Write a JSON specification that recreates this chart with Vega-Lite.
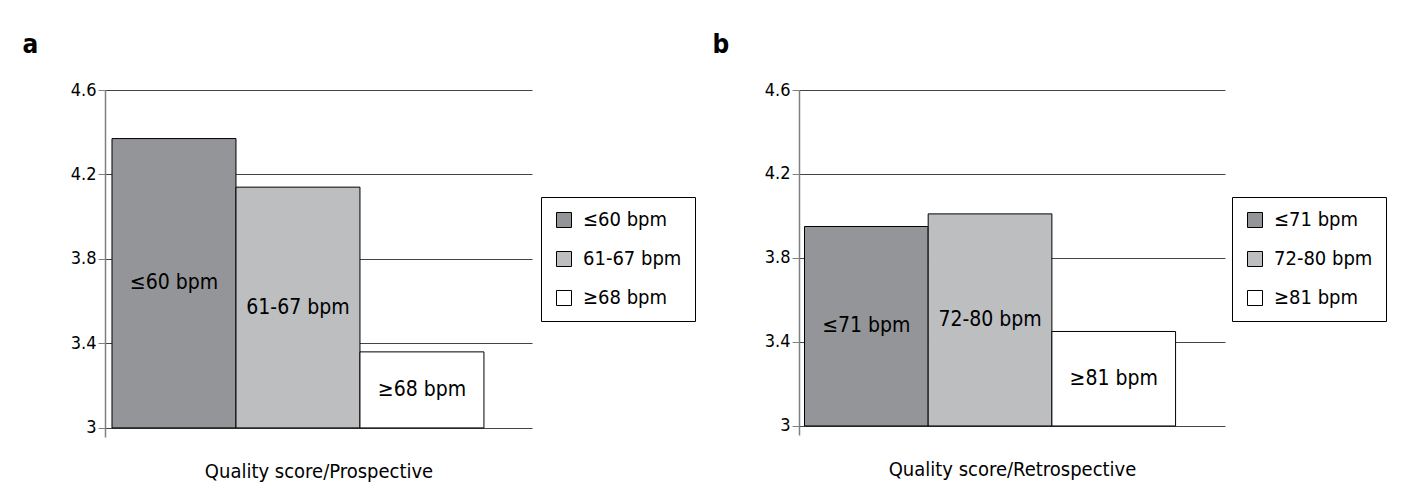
{
  "$schema": "https://vega.github.io/schema/vega-lite/v6.json",
  "padding": {"left": 22, "top": 31, "right": 5, "bottom": 5},
  "spacing": 16,
  "resolve": {"scale": {"fill": "independent", "x": "independent", "y": "independent"}, "legend": {"fill": "independent"}},
  "config": {
    "font": "'DejaVu Sans Condensed', Roboto, sans-serif",
    "view": {"stroke": null},
    "axis": {"labelColor": "black", "titleColor": "black", "labelFont": "'DejaVu Sans Condensed', Roboto, sans-serif", "titleFont": "'DejaVu Sans Condensed', Roboto, sans-serif"},
    "legend": {"labelFont": "'DejaVu Sans Condensed', Roboto, sans-serif"},
    "text": {"font": "'DejaVu Sans Condensed', Roboto, sans-serif"}
  },
  "hconcat": [
    {
      "width": 427,
      "height": 347,
      "data": {"values": [
        {"group": "≤60 bpm", "value": 4.37},
        {"group": "61-67 bpm", "value": 4.14},
        {"group": "≥68 bpm", "value": 3.36}
      ]},
      "layer": [
        {
          "mark": {"type": "bar", "stroke": "black", "strokeWidth": 1},
          "encoding": {
            "x": {"field": "group", "type": "nominal", "sort": null,
              "scale": {"domain": ["≤60 bpm", "61-67 bpm", "≥68 bpm"], "paddingInner": 0, "paddingOuter": 0.222, "align": 0.127},
              "axis": {"title": "Quality score/Prospective", "labels": false, "ticks": false, "domain": false, "titleFontSize": 20, "titleFontWeight": "normal", "titlePadding": 24}},
            "y": {"field": "value", "type": "quantitative",
              "scale": {"domain": [2.957, 4.6], "nice": false, "zero": false},
              "axis": {"values": [3, 3.4, 3.8, 4.2, 4.6], "format": ".2~f", "grid": true, "gridColor": "#444444", "gridWidth": 1, "gridOpacity": 1,
                "domainColor": "#808080", "domainWidth": 1.5, "tickColor": "#808080", "tickSize": 7, "labelFontSize": 18, "labelPadding": 2,
                "title": "a", "titleAngle": 0, "titleX": -83, "titleY": -38, "titleAlign": "left", "titleBaseline": "alphabetic", "titleFontSize": 26, "titleFontWeight": "bold"}},
            "y2": {"datum": 3},
            "fill": {"field": "group", "type": "nominal",
              "scale": {"domain": ["≤60 bpm", "61-67 bpm", "≥68 bpm"], "range": ["#939598", "#bcbec0", "#ffffff"]},
              "legend": {"orient": "none", "legendX": 436, "legendY": 107, "title": null, "strokeColor": "black", "padding": 13, "symbolType": "square", "symbolSize": 225, "symbolStrokeColor": "black", "symbolStrokeWidth": 1, "labelFontSize": 20, "labelColor": "black", "rowPadding": 19, "labelOffset": 9}}
          }
        },
        {
          "transform": [{"calculate": "(datum.value + 3) / 2", "as": "mid"}],
          "mark": {"type": "text", "fontSize": 21, "color": "black"},
          "encoding": {
            "x": {"field": "group", "type": "nominal", "sort": null},
            "y": {"field": "mid", "type": "quantitative"},
            "text": {"field": "group"}
          }
        }
      ]
    },
    {
      "width": 426,
      "height": 345,
      "data": {"values": [
        {"group": "≤71 bpm", "value": 3.95},
        {"group": "72-80 bpm", "value": 4.01},
        {"group": "≥81 bpm", "value": 3.45}
      ]},
      "layer": [
        {
          "mark": {"type": "bar", "stroke": "black", "strokeWidth": 1},
          "encoding": {
            "x": {"field": "group", "type": "nominal", "sort": null,
              "scale": {"domain": ["≤71 bpm", "72-80 bpm", "≥81 bpm"], "paddingInner": 0, "paddingOuter": 0.222, "align": 0.1},
              "axis": {"title": "Quality score/Retrospective", "labels": false, "ticks": false, "domain": false, "titleFontSize": 20, "titleFontWeight": "normal", "titlePadding": 24}},
            "y": {"field": "value", "type": "quantitative",
              "scale": {"domain": [2.957, 4.6], "nice": false, "zero": false},
              "axis": {"values": [3, 3.4, 3.8, 4.2, 4.6], "format": ".2~f", "grid": true, "gridColor": "#444444", "gridWidth": 1, "gridOpacity": 1,
                "domainColor": "#808080", "domainWidth": 1.5, "tickColor": "#808080", "tickSize": 7, "labelFontSize": 18, "labelPadding": 2,
                "title": "b", "titleAngle": 0, "titleX": -87, "titleY": -38, "titleAlign": "left", "titleBaseline": "alphabetic", "titleFontSize": 26, "titleFontWeight": "bold"}},
            "y2": {"datum": 3},
            "fill": {"field": "group", "type": "nominal",
              "scale": {"domain": ["≤71 bpm", "72-80 bpm", "≥81 bpm"], "range": ["#939598", "#bcbec0", "#ffffff"]},
              "legend": {"orient": "none", "legendX": 433, "legendY": 107, "title": null, "strokeColor": "black", "padding": 13, "symbolType": "square", "symbolSize": 225, "symbolStrokeColor": "black", "symbolStrokeWidth": 1, "labelFontSize": 20, "labelColor": "black", "rowPadding": 19, "labelOffset": 9}}
          }
        },
        {
          "transform": [{"calculate": "(datum.value + 3) / 2", "as": "mid"}],
          "mark": {"type": "text", "fontSize": 21, "color": "black"},
          "encoding": {
            "x": {"field": "group", "type": "nominal", "sort": null},
            "y": {"field": "mid", "type": "quantitative"},
            "text": {"field": "group"}
          }
        }
      ]
    }
  ]
}
